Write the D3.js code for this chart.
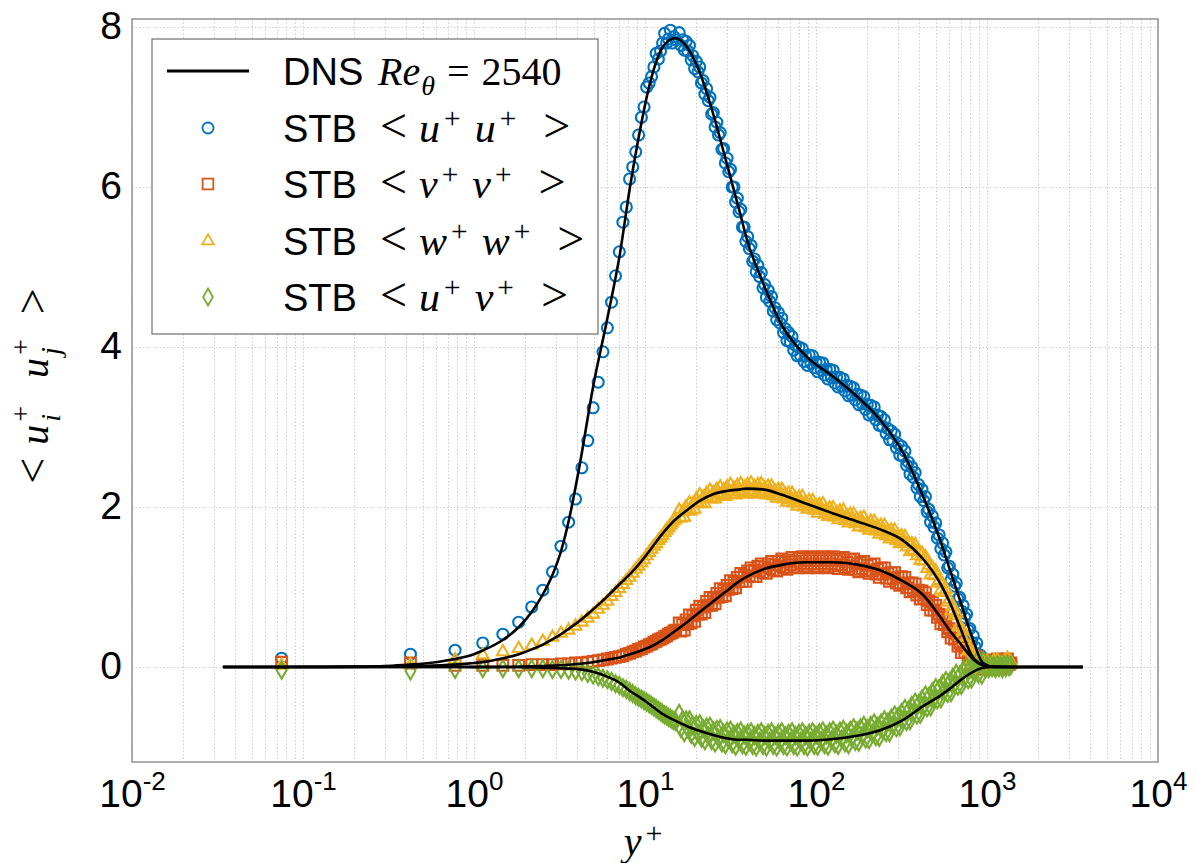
<!DOCTYPE html>
<html><head><meta charset="utf-8">
<script src="https://cdn.jsdelivr.net/npm/d3@7"></script>
<style>html,body{margin:0;padding:0;background:#fff;} svg{display:block;}</style>
</head><body>
<svg id="chart" width="1197" height="863"></svg>
<script>
// ---------------- DATA ----------------
const xTickExponents = [-2, -1, 0, 1, 2, 3, 4];
const yTickValues = [0, 2, 4, 6, 8];

// DNS Re_theta = 2540 profiles
const dnsYPlus = [0.034, 0.1, 0.2, 0.3, 0.42, 0.5, 0.77, 1, 1.11, 1.48, 1.83, 2.18, 2.53, 2.9, 3.23, 3.6, 4.17, 4.97, 6.0, 7.14, 8.17, 9.35, 10.7, 12.7, 15, 17.6, 21, 25, 30, 36, 39.5, 49, 64, 88, 126, 174, 237, 324, 423, 531, 608, 694, 828, 948, 1100, 1500, 3640];
const dnsUU = [0, 0.001, 0.005, 0.012, 0.03, 0.04, 0.1, 0.16, 0.2, 0.34, 0.5, 0.69, 0.91, 1.17, 1.45, 1.85, 2.55, 3.5, 4.34, 5.17, 6.0, 6.71, 7.3, 7.75, 7.86, 7.75, 7.42, 6.92, 6.3, 5.67, 5.34, 4.8, 4.25, 3.88, 3.63, 3.38, 3.09, 2.67, 2.13, 1.59, 1.21, 0.84, 0.34, 0.05, 0.003, 0, 0];
const dnsVV = [0, 0, 0, 0, 0, 0, 0.0005, 0.001, 0.0013, 0.003, 0.005, 0.008, 0.012, 0.017, 0.022, 0.028, 0.04, 0.06, 0.09, 0.12, 0.16, 0.2, 0.25, 0.34, 0.45, 0.56, 0.69, 0.82, 0.95, 1.08, 1.13, 1.22, 1.28, 1.31, 1.31, 1.28, 1.21, 1.07, 0.9, 0.63, 0.45, 0.3, 0.1, 0.02, 0.002, 0, 0];
const dnsWW = [0, 0.0005, 0.002, 0.005, 0.009, 0.013, 0.03, 0.05, 0.06, 0.11, 0.16, 0.22, 0.28, 0.35, 0.41, 0.48, 0.58, 0.72, 0.88, 1.04, 1.16, 1.3, 1.46, 1.67, 1.84, 1.96, 2.08, 2.16, 2.2, 2.22, 2.23, 2.22, 2.15, 2.04, 1.92, 1.82, 1.72, 1.58, 1.35, 1.05, 0.8, 0.5, 0.12, 0.03, 0.002, 0, 0];
const dnsUV = [0, 0, 0, 0, 0, 0, -0.0005, -0.001, -0.001, -0.002, -0.004, -0.006, -0.009, -0.012, -0.016, -0.02, -0.03, -0.06, -0.12, -0.2, -0.3, -0.38, -0.47, -0.59, -0.67, -0.74, -0.8, -0.85, -0.89, -0.91, -0.91, -0.92, -0.92, -0.92, -0.9, -0.86, -0.79, -0.66, -0.49, -0.36, -0.27, -0.17, -0.06, -0.01, 0, 0, 0];

// STB measurements: wall-nearest bins
const stbYPlusNear = [0.075, 0.425, 0.775, 1.125, 1.475, 1.825, 2.175, 2.525, 2.875, 3.225, 3.575, 3.925, 4.275, 4.625, 4.975, 5.325, 5.675, 6.025, 6.375, 6.725, 7.075, 7.425, 7.775, 8.125, 8.475, 8.825, 9.175, 9.525, 9.875, 10.225, 10.575, 10.925, 11.275, 11.625, 11.975, 12.325, 12.675, 13.025, 13.375, 13.725, 14.075, 14.425, 14.775, 15.125];
const stbUUNear = [0.11, 0.16, 0.21, 0.30, 0.41, 0.56, 0.75, 0.96, 1.19, 1.51, 1.81, 2.10, 2.49, 2.83, 3.24, 3.56, 3.94, 4.24, 4.56, 4.89, 5.19, 5.56, 5.75, 6.10, 6.25, 6.44, 6.65, 6.87, 7.00, 7.25, 7.30, 7.38, 7.50, 7.67, 7.60, 7.70, 7.80, 7.92, 7.80, 7.85, 7.96, 7.80, 7.88, 7.84];
const stbVVNear = [0.06, 0.05, 0.02, 0.02, 0.02, 0.02, 0.03, 0.03, 0.03, 0.04, 0.04, 0.05, 0.05, 0.06, 0.07, 0.08, 0.09, 0.10, 0.11, 0.12, 0.13, 0.14, 0.16, 0.17, 0.19, 0.20, 0.22, 0.23, 0.25, 0.26, 0.28, 0.29, 0.31, 0.32, 0.34, 0.35, 0.36, 0.38, 0.39, 0.41, 0.42, 0.43, 0.45, 0.46];
const stbWWNear = [0.02, 0.03, 0.09, 0.15, 0.19, 0.23, 0.27, 0.32, 0.37, 0.42, 0.46, 0.51, 0.56, 0.61, 0.66, 0.72, 0.77, 0.82, 0.88, 0.93, 0.98, 1.03, 1.08, 1.12, 1.17, 1.22, 1.26, 1.30, 1.34, 1.39, 1.43, 1.47, 1.51, 1.54, 1.58, 1.61, 1.64, 1.68, 1.71, 1.74, 1.77, 1.80, 1.83, 1.85];
const stbUVNear = [-0.04, -0.05, -0.03, -0.02, -0.02, -0.02, -0.02, -0.02, -0.03, -0.03, -0.04, -0.05, -0.06, -0.08, -0.10, -0.12, -0.14, -0.16, -0.18, -0.21, -0.23, -0.26, -0.28, -0.31, -0.33, -0.36, -0.38, -0.40, -0.42, -0.44, -0.46, -0.48, -0.50, -0.52, -0.54, -0.56, -0.58, -0.60, -0.61, -0.63, -0.64, -0.66, -0.67, -0.68];

// STB measurements: outer, densely sampled bins
const stbYPlusOuter = [15.85, 16.22, 16.6, 16.98, 17.38, 17.78, 18.2, 18.62, 19.05, 19.5,
  19.95, 20.42, 20.89, 21.38, 21.88, 22.39, 22.91, 23.44, 23.99, 24.55,
  25.12, 25.7, 26.3, 26.92, 27.54, 28.18, 28.84, 29.51, 30.2, 30.9,
  31.62, 32.36, 33.11, 33.88, 34.67, 35.48, 36.31, 37.15, 38.02, 38.9,
  39.81, 40.74, 41.69, 42.66, 43.65, 44.67, 45.71, 46.77, 47.86, 48.98,
  50.12, 51.29, 52.48, 53.7, 54.95, 56.23, 57.54, 58.88, 60.26, 61.66,
  63.1, 64.57, 66.07, 67.61, 69.18, 70.79, 72.44, 74.13, 75.86, 77.62,
  79.43, 81.28, 83.18, 85.11, 87.1, 89.13, 91.2, 93.33, 95.5, 97.72,
  100, 102.3, 104.7, 107.2, 109.6, 112.2, 114.8, 117.5, 120.2, 123,
  125.9, 128.8, 131.8, 134.9, 138, 141.3, 144.5, 147.9, 151.4, 154.9,
  158.5, 162.2, 166, 169.8, 173.8, 177.8, 182, 186.2, 190.5, 195,
  199.5, 204.2, 208.9, 213.8, 218.8, 223.9, 229.1, 234.4, 239.9, 245.5,
  251.2, 257, 263, 269.2, 275.4, 281.8, 288.4, 295.1, 302, 309,
  316.2, 323.6, 331.1, 338.8, 346.7, 354.8, 363.1, 371.5, 380.2, 389,
  398.1, 407.4, 416.9, 426.6, 436.5, 446.7, 457.1, 467.7, 478.6, 489.8,
  501.2, 512.9, 524.8, 537, 549.5, 562.3, 575.4, 588.8, 602.6, 616.6,
  631, 645.7, 660.7, 676.1, 691.8, 707.9, 724.4, 741.3, 758.6, 776.2,
  794.3, 812.8, 831.8, 851.1, 871, 891.3, 912, 933.3, 955, 977.2,
  1000, 1023, 1047, 1072, 1096, 1122, 1148, 1175, 1202, 1230,
  1259, 1288, 1318, 1349, 1380];
const stbUUOuter = [7.93, 7.77, 7.84, 7.71, 7.82, 7.70, 7.77, 7.59, 7.64, 7.48,
  7.57, 7.44, 7.50, 7.30, 7.33, 7.16, 7.23, 7.08, 7.12, 6.91,
  6.93, 6.75, 6.81, 6.65, 6.68, 6.47, 6.48, 6.30, 6.36, 6.19,
  6.22, 6.00, 6.00, 5.81, 5.86, 5.69, 5.72, 5.50, 5.50, 5.32,
  5.38, 5.23, 5.27, 5.07, 5.10, 4.94, 5.02, 4.88, 4.93, 4.74,
  4.78, 4.62, 4.71, 4.57, 4.63, 4.45, 4.49, 4.34, 4.43, 4.30,
  4.36, 4.18, 4.23, 4.08, 4.18, 4.06, 4.13, 3.96, 4.02, 3.89,
  4.00, 3.89, 3.98, 3.82, 3.89, 3.77, 3.90, 3.80, 3.89, 3.74,
  3.81, 3.69, 3.81, 3.71, 3.80, 3.65, 3.72, 3.60, 3.72, 3.62,
  3.71, 3.55, 3.62, 3.50, 3.62, 3.51, 3.60, 3.45, 3.52, 3.39,
  3.51, 3.40, 3.49, 3.34, 3.41, 3.28, 3.40, 3.29, 3.38, 3.22,
  3.28, 3.15, 3.27, 3.16, 3.25, 3.09, 3.15, 3.02, 3.13, 3.01,
  3.09, 2.92, 2.98, 2.84, 2.95, 2.83, 2.91, 2.74, 2.79, 2.65,
  2.76, 2.63, 2.70, 2.52, 2.56, 2.41, 2.50, 2.37, 2.43, 2.24,
  2.28, 2.13, 2.22, 2.08, 2.13, 1.94, 1.97, 1.81, 1.89, 1.75,
  1.80, 1.61, 1.65, 1.48, 1.55, 1.40, 1.44, 1.24, 1.26, 1.09,
  1.16, 1.01, 1.05, 0.85, 0.87, 0.70, 0.77, 0.62, 0.66, 0.46,
  0.48, 0.31, 0.39, 0.25, 0.30, 0.11, 0.15, 0.02, 0.11, 0.01,
  0.07, -0.01, 0.05, -0.02, 0.07, 0.01, 0.08, 0.00, 0.06, 0.02,
  0.09, 0.01, 0.10, 0.03, 0.06];
const stbVVOuter = [0.55, 0.45, 0.53, 0.46, 0.59, 0.54, 0.65, 0.55, 0.64, 0.57,
  0.71, 0.66, 0.76, 0.66, 0.75, 0.68, 0.82, 0.77, 0.87, 0.77,
  0.86, 0.79, 0.92, 0.87, 0.98, 0.88, 0.96, 0.89, 1.02, 0.97,
  1.08, 0.98, 1.06, 0.99, 1.12, 1.07, 1.17, 1.07, 1.15, 1.07,
  1.20, 1.14, 1.24, 1.13, 1.21, 1.13, 1.26, 1.20, 1.29, 1.18,
  1.25, 1.17, 1.29, 1.23, 1.32, 1.21, 1.28, 1.20, 1.32, 1.26,
  1.35, 1.24, 1.31, 1.22, 1.34, 1.28, 1.37, 1.25, 1.32, 1.24,
  1.36, 1.29, 1.38, 1.26, 1.33, 1.24, 1.36, 1.29, 1.38, 1.26,
  1.33, 1.24, 1.36, 1.29, 1.38, 1.26, 1.33, 1.24, 1.36, 1.29,
  1.38, 1.26, 1.33, 1.23, 1.35, 1.28, 1.37, 1.24, 1.31, 1.22,
  1.34, 1.26, 1.35, 1.22, 1.29, 1.19, 1.31, 1.23, 1.32, 1.20,
  1.27, 1.17, 1.28, 1.20, 1.29, 1.16, 1.22, 1.12, 1.24, 1.16,
  1.24, 1.11, 1.17, 1.07, 1.18, 1.10, 1.18, 1.05, 1.12, 1.02,
  1.13, 1.04, 1.12, 0.99, 1.05, 0.94, 1.05, 0.96, 1.04, 0.90,
  0.96, 0.85, 0.95, 0.86, 0.93, 0.78, 0.83, 0.71, 0.81, 0.71,
  0.77, 0.62, 0.66, 0.54, 0.63, 0.53, 0.59, 0.44, 0.48, 0.36,
  0.45, 0.35, 0.41, 0.26, 0.30, 0.18, 0.27, 0.18, 0.24, 0.10,
  0.15, 0.04, 0.14, 0.06, 0.13, 0.00, 0.06, -0.03, 0.08, 0.01,
  0.09, -0.02, 0.05, -0.03, 0.08, 0.02, 0.10, 0.00, 0.06, -0.01,
  0.08, 0.02, 0.10, 0.03, 0.05];
const stbWWOuter = [1.96, 1.86, 1.94, 1.87, 2.00, 1.95, 2.05, 1.95, 2.04, 1.97,
  2.10, 2.05, 2.15, 2.04, 2.12, 2.04, 2.17, 2.11, 2.21, 2.10,
  2.18, 2.10, 2.22, 2.16, 2.25, 2.14, 2.21, 2.13, 2.25, 2.19,
  2.28, 2.16, 2.23, 2.15, 2.27, 2.20, 2.29, 2.18, 2.25, 2.16,
  2.28, 2.21, 2.30, 2.18, 2.25, 2.16, 2.28, 2.21, 2.29, 2.17,
  2.24, 2.15, 2.26, 2.18, 2.26, 2.14, 2.20, 2.11, 2.22, 2.14,
  2.22, 2.10, 2.16, 2.06, 2.17, 2.09, 2.17, 2.05, 2.11, 2.01,
  2.12, 2.05, 2.13, 2.00, 2.06, 1.97, 2.08, 2.00, 2.08, 1.96,
  2.02, 1.92, 2.03, 1.96, 2.04, 1.91, 1.97, 1.88, 1.99, 1.91,
  1.99, 1.87, 1.93, 1.84, 1.95, 1.88, 1.96, 1.83, 1.89, 1.80,
  1.91, 1.83, 1.91, 1.79, 1.85, 1.75, 1.86, 1.79, 1.87, 1.74,
  1.80, 1.71, 1.82, 1.74, 1.82, 1.70, 1.76, 1.66, 1.77, 1.69,
  1.77, 1.64, 1.70, 1.60, 1.71, 1.63, 1.71, 1.58, 1.64, 1.54,
  1.64, 1.56, 1.63, 1.50, 1.55, 1.44, 1.54, 1.46, 1.53, 1.39,
  1.44, 1.33, 1.42, 1.32, 1.38, 1.23, 1.27, 1.15, 1.24, 1.14,
  1.20, 1.05, 1.08, 0.96, 1.04, 0.93, 0.97, 0.81, 0.84, 0.70,
  0.76, 0.64, 0.67, 0.50, 0.52, 0.38, 0.45, 0.33, 0.37, 0.20,
  0.22, 0.09, 0.17, 0.08, 0.14, 0.01, 0.06, -0.03, 0.08, 0.01,
  0.07, -0.02, 0.04, -0.03, 0.08, 0.02, 0.09, 0.00, 0.05, -0.01,
  0.07, 0.03, 0.11, 0.04, 0.06];
const stbUVOuter = [-0.58, -0.77, -0.66, -0.82, -0.66, -0.77, -0.66, -0.84, -0.73, -0.88,
  -0.72, -0.83, -0.71, -0.89, -0.77, -0.92, -0.75, -0.86, -0.74, -0.92,
  -0.80, -0.95, -0.78, -0.89, -0.77, -0.95, -0.83, -0.97, -0.80, -0.91,
  -0.79, -0.96, -0.84, -0.99, -0.82, -0.92, -0.80, -0.97, -0.85, -0.99,
  -0.83, -0.93, -0.81, -0.98, -0.86, -1.00, -0.83, -0.93, -0.81, -0.98,
  -0.86, -1.00, -0.83, -0.93, -0.81, -0.98, -0.86, -1.00, -0.83, -0.93,
  -0.81, -0.98, -0.86, -1.00, -0.83, -0.93, -0.81, -0.98, -0.86, -1.00,
  -0.83, -0.93, -0.81, -0.98, -0.86, -1.00, -0.83, -0.93, -0.81, -0.98,
  -0.85, -0.99, -0.82, -0.92, -0.80, -0.97, -0.85, -0.99, -0.81, -0.91,
  -0.79, -0.96, -0.84, -0.98, -0.80, -0.90, -0.78, -0.95, -0.83, -0.97,
  -0.79, -0.89, -0.76, -0.93, -0.80, -0.94, -0.76, -0.86, -0.73, -0.90,
  -0.77, -0.91, -0.73, -0.83, -0.70, -0.87, -0.74, -0.88, -0.70, -0.79,
  -0.66, -0.82, -0.69, -0.82, -0.64, -0.73, -0.60, -0.76, -0.62, -0.75,
  -0.57, -0.66, -0.52, -0.68, -0.54, -0.67, -0.48, -0.57, -0.44, -0.60,
  -0.46, -0.59, -0.40, -0.49, -0.35, -0.51, -0.37, -0.50, -0.31, -0.40,
  -0.26, -0.41, -0.27, -0.40, -0.21, -0.30, -0.17, -0.33, -0.19, -0.32,
  -0.13, -0.22, -0.08, -0.24, -0.10, -0.23, -0.04, -0.13, 0.00, -0.16,
  -0.02, -0.15, 0.03, -0.06, 0.07, -0.09, 0.04, -0.10, 0.08, -0.02,
  0.02, -0.02, 0.03, -0.01, 0.02, -0.02, 0.03, -0.01, 0.02, -0.02,
  0.03, -0.01, 0.03, 0.00, 0.02];

const seriesNames = ["uu", "vv", "ww", "uv"];
const seriesColors = ["#0072BD", "#D95319", "#EDB120", "#77AC30"];

// ---------------- LAYOUT ----------------
const L = 132, T = 19, R = 1158, B = 762;
const sansFont = "'Liberation Sans', Arial, Helvetica, sans-serif";
const serifFont = "'Liberation Serif', 'Times New Roman', serif";

const svg = d3.select("#chart");
const x = d3.scaleLog().domain([1e-2, 1e4]).range([L, R]);
const y = d3.scaleLinear().domain([-1.1875, 8.1]).range([B, T]);

// grid
const grid = svg.append("g").attr("stroke", "#cdcdcd").attr("stroke-width", 1).attr("stroke-dasharray", "1.5,2");
grid.selectAll("line.vx").data(x.ticks()).join("line")
  .attr("x1", d => Math.round(x(d)) + 0.5).attr("x2", d => Math.round(x(d)) + 0.5)
  .attr("y1", T).attr("y2", B);
grid.selectAll("line.hy").data(yTickValues).join("line")
  .attr("x1", L).attr("x2", R)
  .attr("y1", d => Math.round(y(d)) + 0.5).attr("y2", d => Math.round(y(d)) + 0.5);

// axes (labels)
const xAxis = svg.append("g").attr("transform", `translate(0,${B})`)
  .call(d3.axisBottom(x).tickValues(xTickExponents.map(e => Math.pow(10, e))).tickSize(0).tickFormat(""));
xAxis.select(".domain").remove();
xAxis.selectAll(".tick text").each(function(d, i) {
  const t = d3.select(this);
  t.attr("y", 45).attr("dy", null).attr("font-family", sansFont).attr("font-size", 39).attr("fill", "#000")
   .attr("text-anchor", "middle");
  t.text(null);
  t.append("tspan").text("10");
  t.append("tspan").attr("font-size", 26).attr("dy", -17).text(String(xTickExponents[i]));
});

const yAxis = svg.append("g").attr("transform", `translate(${L},0)`)
  .call(d3.axisLeft(y).tickValues(yTickValues).tickSize(0).tickPadding(10).tickFormat(d3.format("d")));
yAxis.select(".domain").remove();
yAxis.selectAll(".tick text").attr("font-family", sansFont).attr("font-size", 39).attr("fill", "#000").attr("dy", "0.3em");

// STB markers
const symGens = {
  uu: d3.symbol().type(d3.symbolCircle).size(95),
  vv: d3.symbol().type(d3.symbolSquare).size(115),
  ww: d3.symbol().type(d3.symbolTriangle).size(60),
  uv: d3.symbol().type(d3.symbolDiamond).size(82)
};
const stbNear = { uu: stbUUNear, vv: stbVVNear, ww: stbWWNear, uv: stbUVNear };
const stbOuter = { uu: stbUUOuter, vv: stbVVOuter, ww: stbWWOuter, uv: stbUVOuter };
seriesNames.forEach((name, si) => {
  const pts = stbYPlusNear.map((yp, i) => ({ yp, v: stbNear[name][i] }))
    .concat(stbYPlusOuter.map((yp, i) => ({ yp, v: stbOuter[name][i] })));
  svg.append("g").attr("fill", "none").attr("stroke", seriesColors[si]).attr("stroke-width", 2.1)
    .selectAll("path").data(pts).join("path")
    .attr("d", symGens[name]())
    .attr("transform", d => `translate(${x(d.yp)},${y(d.v)})`);
});

// DNS lines
const dnsValues = [dnsUU, dnsVV, dnsWW, dnsUV];
const line = d3.line().x(d => x(d[0])).y(d => y(d[1])).curve(d3.curveMonotoneX);
dnsValues.forEach(vals => {
  svg.append("path").datum(dnsYPlus.map((yp, i) => [yp, vals[i]]))
    .attr("fill", "none").attr("stroke", "#000").attr("stroke-width", 2.6)
    .attr("stroke-linejoin", "round").attr("d", line);
});

// frame
svg.append("rect").attr("x", L).attr("y", T).attr("width", R - L).attr("height", B - T)
  .attr("fill", "none").attr("stroke", "#8c8c8c").attr("stroke-width", 1.4);

// math text helper
function mathText(g, tokens, fs) {
  let cx = 0;
  for (const tk of tokens) {
    if (tk.gap !== undefined) { cx += tk.gap; continue; }
    if (tk.t !== undefined) {
      const el = g.append("text").attr("x", cx).attr("y", 0).attr("font-size", tk.fs || fs)
        .attr("font-style", tk.it ? "italic" : "normal").text(tk.t);
      cx += el.node().getComputedTextLength();
    }
    if (tk.sup !== undefined || tk.sub !== undefined) {
      let sw = 0;
      const sx = cx + (tk.sdx || 0);
      const sfs = (tk.sfs || 0.7) * fs;
      if (tk.sup !== undefined) {
        const e = g.append("text").attr("x", sx).attr("y", (tk.supY !== undefined ? tk.supY : -0.33) * fs)
          .attr("font-size", sfs).text(tk.sup);
        sw = Math.max(sw, e.node().getComputedTextLength());
      }
      if (tk.sub !== undefined) {
        const e = g.append("text").attr("x", sx).attr("y", (tk.subY !== undefined ? tk.subY : 0.28) * fs)
          .attr("font-size", sfs).attr("font-style", "italic").text(tk.sub);
        sw = Math.max(sw, e.node().getComputedTextLength());
      }
      cx = sx + sw;
    }
  }
  return cx;
}

// legend
const lg = svg.append("g");
lg.append("rect").attr("x", 152).attr("y", 39).attr("width", 446).attr("height", 295)
  .attr("fill", "#fff").attr("stroke", "#7a7a7a").attr("stroke-width", 1.3);
const rowY = [71, 128, 184, 241, 297];
lg.append("line").attr("x1", 167).attr("x2", 249).attr("y1", rowY[0]).attr("y2", rowY[0])
  .attr("stroke", "#000").attr("stroke-width", 3);
lg.append("text").attr("x", 283).attr("y", rowY[0] + 14).attr("font-family", sansFont).attr("font-size", 38).text("DNS");
{
  const g = lg.append("g").attr("transform", `translate(378,${rowY[0] + 14})`).attr("font-family", serifFont);
  mathText(g, [{ t: "R", it: true }, { t: "e", it: true, sub: "\u03B8", sdx: 1, subY: 0.25 }, { gap: 12 }, { t: "=" }, { gap: 12 }, { t: "2540" }], 40);
}
const legendMath = { uu: ["u", "u"], vv: ["v", "v"], ww: ["w", "w"], uv: ["u", "v"] };
seriesNames.forEach((name, si) => {
  const ry = rowY[si + 1];
  lg.append("path").attr("d", symGens[name]()).attr("transform", `translate(208,${ry})`)
    .attr("fill", "none").attr("stroke", seriesColors[si]).attr("stroke-width", 1.8);
  lg.append("text").attr("x", 283).attr("y", ry + 14).attr("font-family", sansFont).attr("font-size", 38).text("STB");
  const g = lg.append("g").attr("transform", `translate(380,${ry + 14})`).attr("font-family", serifFont);
  const [a, b] = legendMath[name];
  mathText(g, [{ t: "<", fs: 48 }, { gap: 12 }, { t: a, it: true, sup: "+", sdx: 4 }, { gap: 14 }, { t: b, it: true, sup: "+", sdx: 4 }, { gap: 27 }, { t: ">", fs: 48 }], 42);
});

// x-axis title
{
  const g = svg.append("g").attr("font-family", serifFont);
  const w = mathText(g, [{ t: "y", it: true, sup: "+", sdx: 4, sfs: 0.75, supY: -0.3 }], 40);
  g.attr("transform", `translate(${(L + R) / 2 - w / 2 - 2},855)`);
}
// y-axis title
{
  const outer = svg.append("g").attr("transform", "translate(48,386) rotate(-90)");
  const g = outer.append("g").attr("font-family", serifFont);
  const w = mathText(g, [{ t: "<", fs: 46 }, { gap: 13 }, { t: "u", it: true, sup: "+", sub: "i", sdx: 3, supY: -0.46, subY: 0.3 }, { gap: 28 }, { t: "u", it: true, sup: "+", sub: "j", sdx: 3, supY: -0.46, subY: 0.3 }, { gap: 25 }, { t: ">", fs: 46 }], 40);
  g.attr("transform", `translate(${-w / 2},0)`);
}
</script>
</body></html>
